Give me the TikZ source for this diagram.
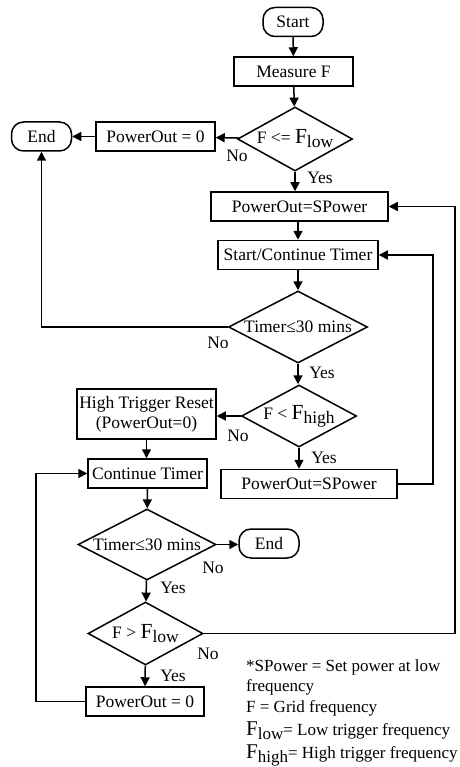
\documentclass[tikz,border=0pt]{standalone}
\usepackage{fontspec}
\setmainfont{Liberation Serif}
\usetikzlibrary{shapes.geometric, arrows.meta, positioning}
\newcommand{\Fsub}[1]{{\fontsize{21.5}{21.5}\selectfont F}\raisebox{-4pt}{#1}}
\tikzset{
    process/.style={
        rectangle, draw=black, line width=1.5pt,
        minimum height=29pt, inner sep=2pt, fill=white
    },
    terminal/.style={
        rectangle, draw=black, line width=1.5pt, rounded corners=12pt,
        minimum width=60pt, minimum height=29pt, inner sep=2pt
    },
    decision/.style={
        diamond, draw=black, line width=1.5pt, aspect=2, inner sep=0pt
    },
    wire/.style={draw=black, line width=1.5pt, -{Triangle[length=9pt, width=9pt]}},
    answer/.style={inner sep=0pt}
}

\begin{document}
\begin{tikzpicture}[x=1pt, y=-1pt, font=\fontsize{17.5}{20}\selectfont]
\useasboundingbox (0,0) rectangle (459,767);

% Low frequency check (top)
\node[terminal] (start) at (293,22) {Start};
\node[process, minimum width=119pt] (measure) at (293.5,71.5) {Measure F};
\node[decision, minimum width=115pt, minimum height=64pt] (lowchk) at (295,139) {F <= \Fsub{low}};
\node[process, minimum width=119pt] (zero) at (155.5,136.5) {PowerOut = 0};
\node[terminal] (endA) at (41.5,136.5) {End};

% Set power and timer
\node[process, minimum width=177pt] (spower) at (299.5,206.5) {PowerOut=SPower};
\node[process, minimum width=160pt] (timer) at (298,255) {Start/Continue Timer};
\node[decision, minimum width=139pt, minimum height=72pt] (tchk) at (298,327) {Timer≤30 mins};

% High trigger check
\node[decision, minimum width=114pt, minimum height=62pt] (highchk) at (299,416) {F < \Fsub{high}};
\node[process, minimum width=139pt, minimum height=50pt, align=center] (reset) at (146.5,414) {High Trigger Reset\\(PowerOut=0)};
\node[process, minimum width=176pt] (spower2) at (309,484) {PowerOut=SPower};

% Reset branch (bottom left)
\node[process, minimum width=119pt] (cont) at (147.5,473.5) {Continue Timer};
\node[decision, minimum width=138pt, minimum height=71pt] (tchk2) at (147,544.5) {Timer≤30 mins};
\node[terminal] (endB) at (269,543.5) {End};
\node[decision, minimum width=115pt, minimum height=63pt] (lowchk2) at (145.5,633.5) {F > \Fsub{low}};
\node[process, minimum width=118pt] (zero2) at (145,701.5) {PowerOut = 0};

% Branch labels
\node[answer] (no1) at (237,156) {No};
\node[answer] (yes1) at (320,178) {Yes};
\node[answer] (no2) at (218,343) {No};
\node[answer] (yes2) at (322,373) {Yes};
\node[answer] (no3) at (238,436) {No};
\node[answer] (yes3) at (324,458) {Yes};
\node[answer] (no4) at (213,568) {No};
\node[answer] (yes4) at (173,588) {Yes};
\node[answer] (no5) at (208,654) {No};
\node[answer] (yes5) at (173,676) {Yes};

% Legend
\node[anchor=north west, align=left, inner sep=0pt, font=\fontsize{17}{20.5}\selectfont] (legend) at (246,659)
    {*SPower = Set power at low\\frequency\\F = Grid frequency\\[2.5pt]{\fontsize{21}{21}\selectfont F}\raisebox{-4pt}{low}= Low trigger frequency\\[2.5pt]{\fontsize{21}{21}\selectfont F}\raisebox{-4pt}{high}= High trigger frequency};

% Return rails
\coordinate (leftrail) at (36,0);
\coordinate (innerrail) at (433,0);
\coordinate (outerrail) at (455,0);

% Connections
\draw[wire] (start) -- (measure);
\draw[wire] (measure) -- (lowchk);
\draw[wire] (lowchk) -- (zero);
\draw[wire] (zero) -- (endA);
\draw[wire] (lowchk.south) -- (lowchk.south |- spower.north);
\draw[wire] (timer.north |- spower.south) -- (timer.north);
\draw[wire] (timer) -- (tchk);
\draw[wire] (tchk.west) -| (endA.south);
\draw[wire] (tchk.south) -- (tchk.south |- highchk.north);
\draw[wire] (highchk.west) -- (highchk.west -| reset.east);
\draw[wire] (highchk.south) -- (highchk.south |- spower2.north);
\draw[wire] (spower2.east) -- (spower2.east -| innerrail) |- (timer.east);
\draw[wire] (reset.south) -- (reset.south |- cont.north);
\draw[wire] (cont) -- (tchk2);
\draw[wire] (tchk2.east) -- (tchk2.east -| endB.west);
\draw[wire] (tchk2) -- (lowchk2);
\draw[wire] (lowchk2.east) -- (lowchk2.east -| outerrail) |- (spower.east);
\draw[wire] (lowchk2) -- (zero2);
\draw[wire] (zero2.west) -- (zero2.west -| leftrail) |- (cont.west);

\end{tikzpicture}
\end{document}
